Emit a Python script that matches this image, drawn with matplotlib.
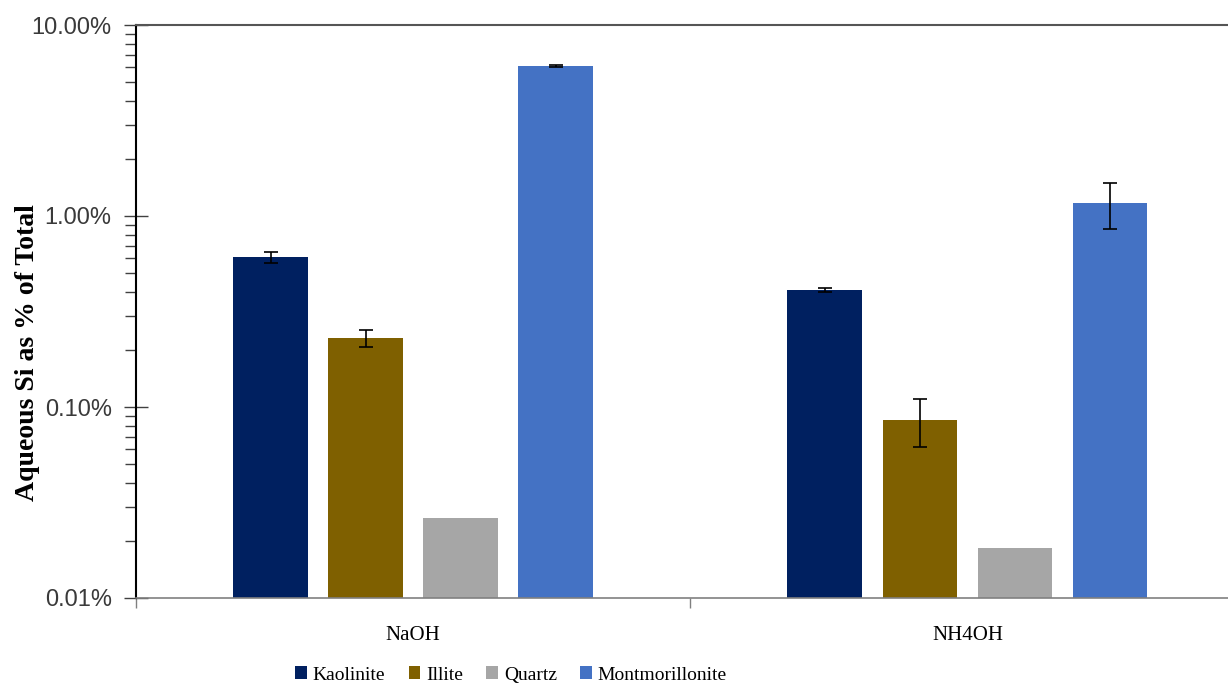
import numpy as np
import matplotlib.pyplot as plt
from matplotlib.ticker import FixedLocator, LogLocator, NullFormatter, FuncFormatter

# ======================
# Data (aqueous Si, % of total)
# ======================
treatments = ['NaOH', 'NH4OH']
minerals = ['Kaolinite', 'Illite', 'Quartz', 'Montmorillonite']
colors = ['#002060', '#7F6000', '#A6A6A6', '#4472C4']

kaolinite = [0.61, 0.41]
illite = [0.23, 0.086]
quartz = [0.0262, 0.0183]
montmorillonite = [6.1, 1.17]

kaolinite_err = [0.04, 0.008]
illite_err = [0.024, 0.024]
quartz_err = [0.0, 0.0]
montmorillonite_err = [0.1, 0.31]

values = [kaolinite, illite, quartz, montmorillonite]
errors = [kaolinite_err, illite_err, quartz_err, montmorillonite_err]

# ======================
# Plot
# ======================
fig = plt.figure(figsize=(12.28, 6.87), dpi=100)
ax = fig.add_axes([136 / 1228, 1 - 598 / 687, 1 - 136 / 1228, 573 / 687])

x = np.arange(len(treatments))
step = 0.1715
width = 0.135

for i, (name, vals, errs, col) in enumerate(zip(minerals, values, errors, colors)):
    pos = x + (i - 1.5) * step
    yerr = [e if e > 0 else np.nan for e in errs]
    ax.bar(pos, vals, width=width, color=col, label=name, zorder=2)
    ax.errorbar(pos, vals, yerr=yerr, fmt='none', ecolor='black',
                elinewidth=1.2, capsize=5, capthick=1.2, zorder=3)

ax.set_yscale('log')
ax.set_ylim(0.01, 10)
ax.set_xlim(-0.5, 1.47)

# y axis: percent labels, minor ticks on every log step
ax.yaxis.set_major_locator(FixedLocator([0.01, 0.1, 1, 10]))
ax.yaxis.set_major_formatter(FuncFormatter(lambda v, p: f'{v:.2f}%'))
ax.yaxis.set_minor_locator(LogLocator(base=10, subs=np.arange(2, 10)))
ax.yaxis.set_minor_formatter(NullFormatter())
ax.tick_params(axis='y', which='major', direction='inout', length=17,
               width=1, color='#404040', pad=9, labelsize=17, labelcolor='#3a3a3a')
ax.tick_params(axis='y', which='minor', direction='out', length=8,
               width=1, color='#404040')
for lbl in ax.get_yticklabels():
    lbl.set_family('Liberation Sans')

# x axis: category names, separator ticks between groups
ax.set_xticks(x)
ax.set_xticklabels(treatments, family='Liberation Serif', fontsize=15)
ax.tick_params(axis='x', which='major', length=0, pad=20)
ax.set_xticks([-0.5, 0.5], minor=True)
ax.tick_params(axis='x', which='minor', direction='out', length=7,
               width=1, color='#808080')

ax.spines['left'].set_color('black')
ax.spines['left'].set_linewidth(1.5)
ax.spines['top'].set_color('#555555')
ax.spines['top'].set_linewidth(1.5)
ax.spines['bottom'].set_color('#808080')
ax.spines['bottom'].set_linewidth(1.2)
ax.spines['right'].set_visible(False)

fig.text(28 / 1228, 1 - 353 / 687, 'Aqueous Si as % of Total', rotation=90,
         ha='center', va='center', family='Liberation Serif',
         fontsize=20, fontweight='bold')

fig.legend(loc='center', bbox_to_anchor=(511 / 1228, 1 - 675 / 687),
           ncol=4, frameon=False, handlelength=0.6, handleheight=0.6,
           handletextpad=0.3, columnspacing=1.2,
           prop={'family': 'Liberation Serif', 'size': 14})

plt.savefig('out.png', dpi=100)
